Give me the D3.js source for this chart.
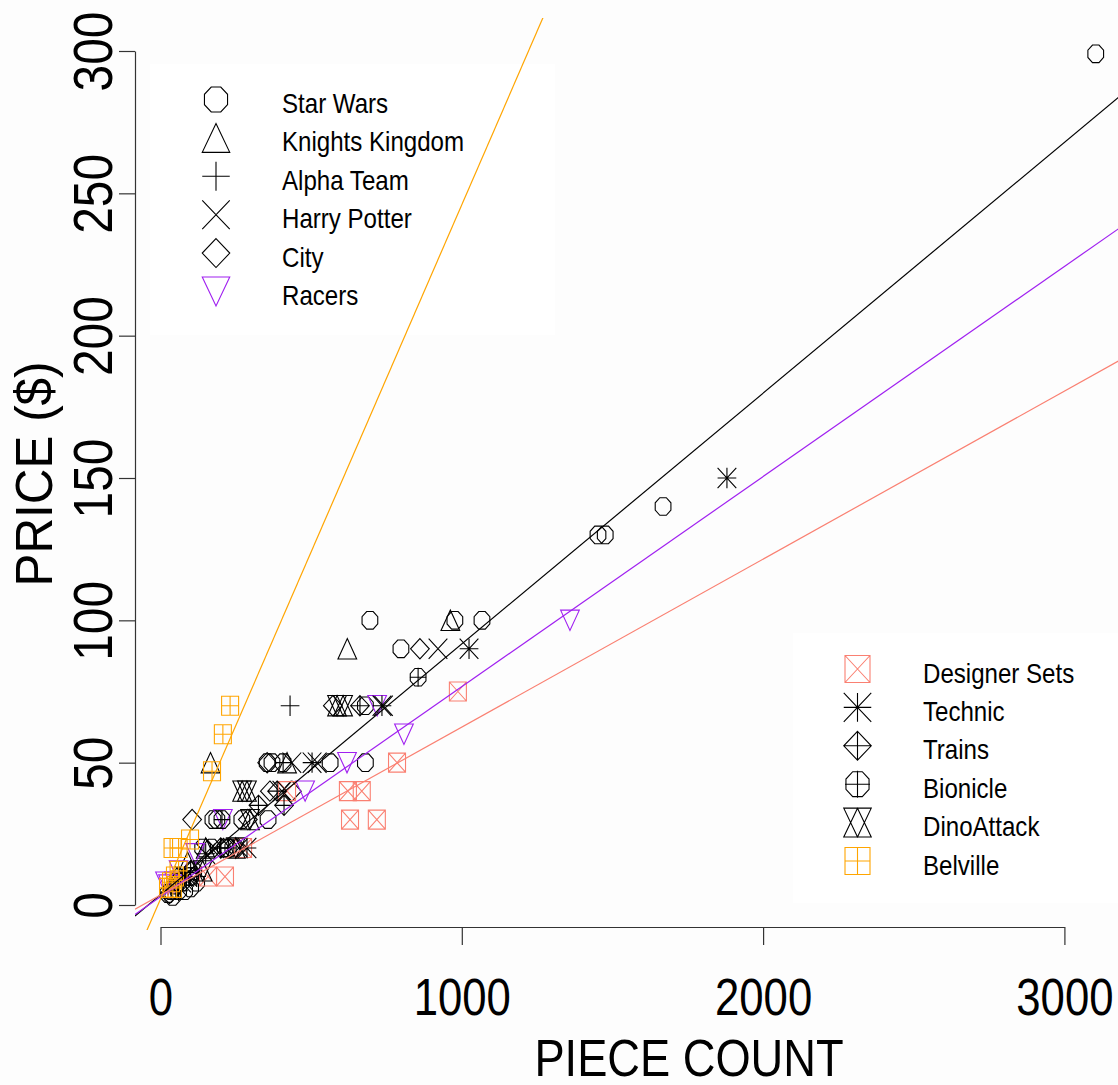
<!DOCTYPE html>
<html>
<head>
<meta charset="utf-8">
<script src="https://cdn.jsdelivr.net/npm/d3@7"></script>
<style>
  body { margin: 0; background: #fdfdfd; }
  svg { display: block; font-family: "Liberation Sans", Arial, sans-serif; }
</style>
</head>
<body>
<div id="chart"></div>
<script>
// LEGO sets: piece count vs price, by theme
const themes = ["Star Wars", "Knights Kingdom", "Alpha Team", "Harry Potter", "City", "Racers",
                "Designer Sets", "Technic", "Trains", "Bionicle", "DinoAttack", "Belville"];

const starWars = [[3104, 299], [1668, 140], [1452, 130], [1476, 130], [695, 100], [977, 100], [1067, 100],
  [798, 90], [680, 70], [354, 50], [370, 50], [563, 50], [680, 50], [174, 30], [187, 30], [270, 30], [357, 30],
  [140, 20], [170, 20], [215, 20], [240, 20], [95, 10], [110, 12], [120, 8], [25, 4], [40, 3], [60, 5],
  [80, 5], [100, 6], [70, 8], [50, 7]];
const knightsKingdom = [[620, 90], [962, 100], [166, 50], [420, 50], [90, 15], [150, 20], [40, 6]];
const alphaTeam = [[430, 70], [200, 20], [120, 10], [60, 5]];
const harryPotter = [[921, 90], [740, 70], [436, 50], [520, 50], [403, 40], [180, 20], [260, 20], [90, 10], [70, 8]];
const city = [[861, 90], [572, 70], [354, 50], [363, 40], [436, 40], [105, 30], [290, 30], [250, 20], [60, 10], [30, 4]];
const racers = [[1359, 100], [808, 60], [719, 70], [619, 50], [480, 40], [207, 30], [115, 18], [60, 12],
  [25, 7], [45, 8], [15, 8]];
const designerSets = [[987, 75], [785, 50], [622, 40], [668, 40], [420, 40], [629, 30], [718, 30], [274, 20],
  [158, 10], [214, 10]];
const technic = [[1880, 150], [1024, 90], [735, 70], [503, 50], [287, 20], [150, 18], [80, 10]];
const trains = [[662, 70], [387, 40], [325, 35], [410, 35], [200, 20], [100, 12]];
const bionicle = [[855, 80], [407, 50], [204, 30], [225, 20], [100, 10], [60, 8], [35, 5]];
const dinoAttack = [[586, 70], [606, 70], [271, 40], [287, 40], [297, 30], [250, 20], [140, 12]];
const belville = [[231, 70], [207, 60], [171, 47], [98, 23], [40, 20], [60, 20], [48, 10], [25, 6], [41, 6],
  [35, 8], [60, 12]];

const seriesData = [starWars, knightsKingdom, alphaTeam, harryPotter, city, racers,
                    designerSets, technic, trains, bionicle, dinoAttack, belville];
const seriesShapes = ["circle", "triUp", "plus", "cross", "diamond", "triDown",
                      "sqX", "asterisk", "diamondPlus", "circlePlus", "hourglass", "sqPlus"];
const seriesColors = ["black", "black", "black", "black", "black", "#a020f0",
                      "#fa8072", "black", "black", "black", "black", "#ffa500"];

// fitted lines (intercept, slope)
const fitThemes = ["Star Wars", "Racers", "Designer Sets", "Belville"];
const fitIntercepts = [3.6, 2.9, 3.5, 2.1];
const fitSlopes = [0.0881, 0.0738, 0.059, 0.2439];

const xTicks = [0, 1000, 2000, 3000];
const yTicks = [0, 50, 100, 150, 200, 250, 300];

const width = 1118, height = 1085;
const plot = { left: 135, right: 1133, top: 18, bottom: 930 };

const x = d3.scaleLinear().domain([0, 3000]).range([160.5, 1064.4]);
const y = d3.scaleLinear().domain([0, 300]).range([905, 51]);

const svg = d3.select("#chart").append("svg")
    .attr("width", width)
    .attr("height", height);

svg.append("rect").attr("width", width).attr("height", height).attr("fill", "#fdfdfd");

// squeeze text horizontally like the narrow font of the original
function squeeze(sel, f) {
    sel.each(function() {
        const len = this.getComputedTextLength();
        d3.select(this).attr("textLength", len * f).attr("lengthAdjust", "spacingAndGlyphs");
    });
}

function symbolPath(type, hw, hh) {
    const oct = () => {
        let p = "";
        for (let k = 0; k < 8; k++) {
            const a = (22.5 + 45 * k) * Math.PI / 180;
            p += (k ? "L" : "M") + (hw * Math.cos(a)).toFixed(2) + "," + (hh * Math.sin(a)).toFixed(2);
        }
        return p + "Z";
    };
    const w = 1.1 * hw, h = 1.07 * hh;
    const plus = `M${-w},0H${w}M0,${-h}V${h}`;
    const cross = `M${-w},${-h}L${w},${h}M${-w},${h}L${w},${-h}`;
    const diamond = `M0,${-h}L${w},0L0,${h}L${-w},0Z`;
    const triUp = `M${-w},${h}L${w},${h}L0,${-h}Z`;
    const triDown = `M${-w},${-h}L${w},${-h}L0,${h}Z`;
    const sq = `M${-hw},${-hh}H${hw}V${hh}H${-hw}Z`;
    switch (type) {
        case "circle": return oct();
        case "triUp": return triUp;
        case "plus": return plus;
        case "cross": return cross;
        case "diamond": return diamond;
        case "triDown": return triDown;
        case "sqX": return sq + `M${-hw},${-hh}L${hw},${hh}M${-hw},${hh}L${hw},${-hh}`;
        case "asterisk": return plus + cross;
        case "diamondPlus": return diamond + plus;
        case "circlePlus": return oct() + `M${-hw},0H${hw}M0,${-hh}V${hh}`;
        case "hourglass": return triUp + triDown;
        case "sqPlus": return sq + `M${-hw},0H${hw}M0,${-hh}V${hh}`;
    }
}

// axes
const yAxis = svg.append("g")
    .attr("transform", `translate(${plot.left},0)`)
    .call(d3.axisLeft(y).tickValues(yTicks).tickFormat(d3.format("d")).tickSize(16).tickSizeOuter(0));
const xAxis = svg.append("g")
    .attr("transform", `translate(0,927)`)
    .call(d3.axisBottom(x).tickValues(xTicks).tickFormat(d3.format("d")).tickSize(18).tickSizeOuter(0));

[yAxis, xAxis].forEach(g => {
    g.attr("font-family", null).attr("font-size", null);
    g.selectAll("path, line").attr("stroke", "#333").attr("stroke-width", 1.2);
});

yAxis.selectAll("text")
    .attr("x", null).attr("dy", null)
    .attr("transform", "translate(-23,0) rotate(-90)")
    .attr("text-anchor", "middle")
    .attr("font-size", 55)
    .attr("fill", "black")
    .call(squeeze, 0.87);

xAxis.selectAll("text")
    .attr("y", 88).attr("dy", null)
    .attr("font-size", 52)
    .attr("fill", "black")
    .call(squeeze, 0.84);

svg.append("text")
    .attr("x", 689).attr("y", 1076)
    .attr("text-anchor", "middle")
    .attr("font-size", 52)
    .text("PIECE COUNT")
    .call(squeeze, 0.87);

svg.append("text")
    .attr("transform", "translate(52,474) rotate(-90)")
    .attr("text-anchor", "middle")
    .attr("font-size", 52)
    .text("PRICE ($)")
    .call(squeeze, 0.95);

// legend backgrounds
svg.append("rect").attr("x", 150).attr("y", 64).attr("width", 405).attr("height", 271).attr("fill", "white");
svg.append("rect").attr("x", 793).attr("y", 633).attr("width", 340).attr("height", 270).attr("fill", "white");

// points
svg.append("defs").append("clipPath").attr("id", "plotclip")
    .append("rect")
    .attr("x", plot.left).attr("y", plot.top)
    .attr("width", plot.right - plot.left).attr("height", plot.bottom - plot.top);

const pts = svg.append("g").attr("clip-path", "url(#plotclip)");
seriesData.forEach((data, i) => {
    pts.append("g")
        .selectAll("path")
        .data(data)
        .enter().append("path")
        .attr("transform", d => `translate(${x(d[0])},${y(d[1])})`)
        .attr("d", symbolPath(seriesShapes[i], 8.5, 9.5))
        .attr("fill", "none")
        .attr("stroke", seriesColors[i])
        .attr("stroke-width", 1.1);
});

// fitted lines
const x0 = x.invert(plot.left), x1 = x.invert(plot.right);
pts.append("g")
    .selectAll("line")
    .data(fitThemes)
    .enter().append("line")
    .attr("x1", x(x0))
    .attr("x2", x(x1))
    .attr("y1", (d, i) => y(fitIntercepts[i] + fitSlopes[i] * x0))
    .attr("y2", (d, i) => y(fitIntercepts[i] + fitSlopes[i] * x1))
    .attr("stroke", d => seriesColors[themes.indexOf(d)])
    .attr("stroke-width", 1.2);

// legends
function legend(items, sx, tx, y0) {
    const g = svg.append("g");
    items.forEach((idx, k) => {
        const yy = y0 + k * 38.4;
        g.append("path")
            .attr("transform", `translate(${sx},${yy})`)
            .attr("d", symbolPath(seriesShapes[idx], 12.5, 13.5))
            .attr("fill", "none")
            .attr("stroke", seriesColors[idx])
            .attr("stroke-width", 1.1);
        g.append("text")
            .attr("x", tx).attr("y", yy + 13.5)
            .attr("font-size", 28)
            .text(themes[idx])
            .call(squeeze, 0.86);
    });
}
legend([0, 1, 2, 3, 4, 5], 216, 282, 99.5);
legend([6, 7, 8, 9, 10, 11], 857.5, 923, 669);
</script>
</body>
</html>
